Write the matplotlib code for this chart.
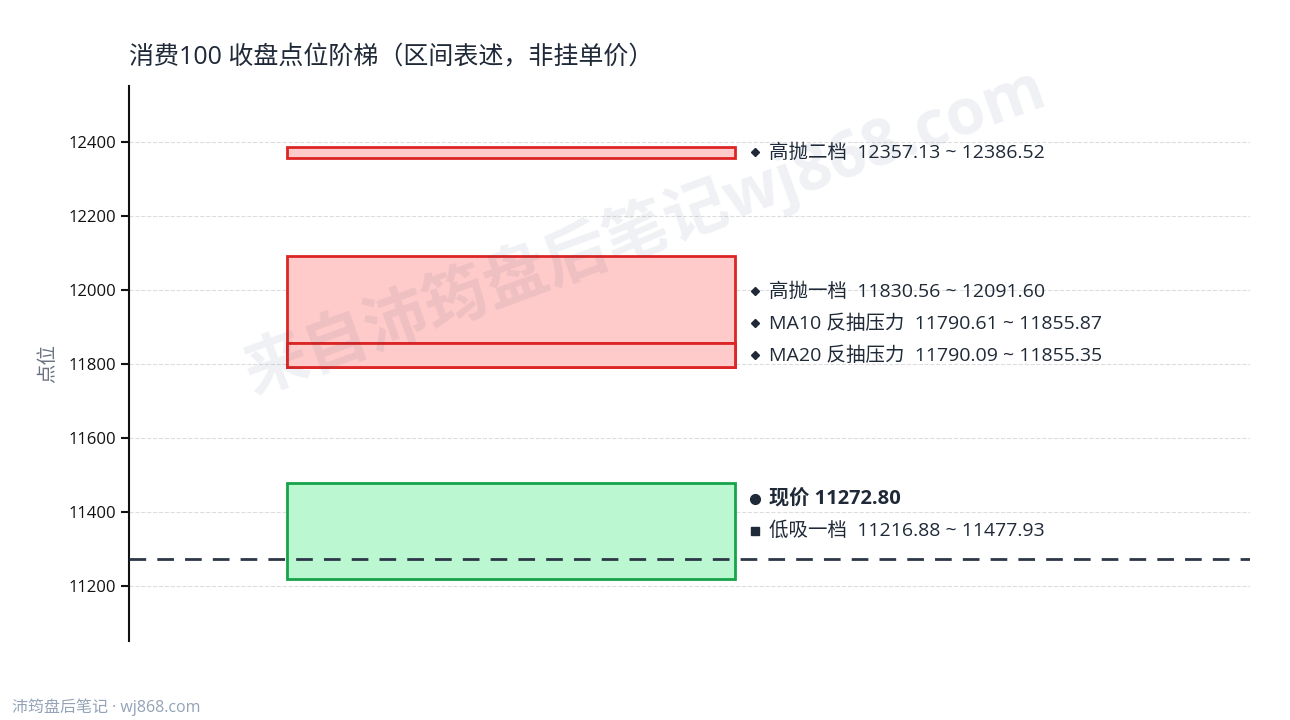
import matplotlib
matplotlib.use("Agg")
import matplotlib.pyplot as plt
from matplotlib.patches import Rectangle

plt.rcParams['font.family'] = ['Open Sans', 'Noto Sans CJK SC', 'DejaVu Sans']

# 区间数据
zone_names = ['低吸一档', 'MA20 反抽压力', 'MA10 反抽压力', '高抛一档', '高抛二档']
zone_lo = [11216.88, 11790.09, 11790.61, 11830.56, 12357.13]
zone_hi = [11477.93, 11855.35, 11855.87, 12091.60, 12386.52]
zone_kind = ['buy', 'sell', 'sell', 'sell', 'sell']
current = 11272.80

yticks = [11200, 11400, 11600, 11800, 12000, 12200, 12400]

colors = {'buy': ('#bbf7d0', '#16a34a'), 'sell': ('#fecaca', '#dc2626')}

fig = plt.figure(figsize=(12.9, 7.2), dpi=100)
ax = fig.add_axes([0.1, 0.1097, 0.869, 0.771])
ax.set_xlim(0, 1)
ax.set_ylim(11050, 12552)

# 画区间 (先画宽的高抛一档, 再画 MA)
order = [0, 3, 4, 2, 1]
for i in order:
    fc, ec = colors[zone_kind[i]]
    ax.add_patch(Rectangle((0.141, zone_lo[i]), 0.4, zone_hi[i] - zone_lo[i],
                           facecolor=fc, edgecolor=ec, lw=2, zorder=3))

ax.axhline(current, color='#2d3748', lw=2, ls=(0, (6, 4)), zorder=4)

# 标签位置: 从下往上, 至少间隔 gap
gap = 86.5
labels = [(zone_names[0] + '  %.2f ~ %.2f' % (zone_lo[0], zone_hi[0]), (zone_lo[0] + zone_hi[0]) / 2, 's', False),
          ('现价 %.2f' % current, current, 'o', True)]
for i in [1, 2, 3, 4]:
    labels.append((zone_names[i] + '  %.2f ~ %.2f' % (zone_lo[i], zone_hi[i]),
                   (zone_lo[i] + zone_hi[i]) / 2, 'D', False))
prev = None
for txt, y, mk, bold in labels:
    if prev is not None and y < prev + gap:
        y = prev + gap
    prev = y
    ms = {'s': 6, 'o': 7, 'D': 4.5}[mk]
    ax.plot([0.558], [y], marker=mk, ms=ms, color='#1f2937', clip_on=False, zorder=5)
    ax.text(0.571, y, txt, fontsize=14.5 if bold else 14, va='center', ha='left',
            color='#1f2937', fontweight='bold' if bold else 'normal')

ax.set_yticks(yticks)
ax.set_xticks([])
ax.tick_params(axis='y', labelsize=12, length=6, width=1.5, colors='#111111')
ax.grid(axis='y', ls='--', color='#dddddd', lw=0.8)
ax.set_axisbelow(True)
for s in ['top', 'right', 'bottom']:
    ax.spines[s].set_visible(False)
ax.spines['left'].set_linewidth(1.5)
ax.spines['left'].set_color('#111111')
ax.set_ylabel('点位', fontsize=14, color='#6b7280', labelpad=8)

fig.text(0.1, 0.92, '消费100 收盘点位阶梯（区间表述，非挂单价）', fontsize=18, color='#1f2937', va='center')
fig.text(0.5, 0.68, '来自沛筠盘后笔记wj868.com', fontsize=46, fontweight='bold', color='#1e3a5f',
         alpha=0.07, rotation=20, ha='center', va='center')
fig.text(0.009, 0.018, '沛筠盘后笔记 · wj868.com', fontsize=11.5, color='#94a3b8', va='center')

fig.savefig('out.png', dpi=100)
